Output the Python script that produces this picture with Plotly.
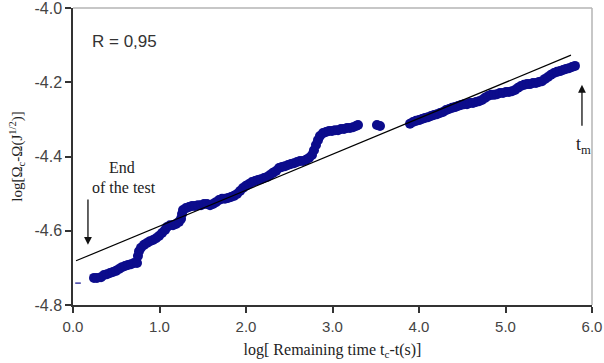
import plotly.graph_objects as go

# ---- data ----
log_t = [0.243, 0.277, 0.324, 0.358, 0.393, 0.428, 0.462, 0.497, 0.532, 0.566, 0.601, 0.636, 0.671, 0.705, 0.740,
         0.751, 0.763, 0.786, 0.821, 0.855, 0.890, 0.925, 0.960, 0.994, 1.029, 1.064, 1.087, 1.121, 1.156, 1.191,
         1.225, 1.249, 1.260, 1.272, 1.306, 1.341, 1.376, 1.410, 1.445, 1.480, 1.514, 1.549, 1.584, 1.618, 1.653,
         1.688, 1.723, 1.757, 1.792, 1.827, 1.861, 1.896, 1.931, 1.965, 2.000, 2.035, 2.069, 2.104, 2.139, 2.173,
         2.208, 2.243, 2.277, 2.312, 2.347, 2.382, 2.416, 2.451, 2.486, 2.520, 2.555, 2.590, 2.624, 2.659, 2.694,
         2.728, 2.763, 2.786, 2.809, 2.832, 2.855, 2.890, 2.925, 2.960, 2.994, 3.029, 3.064, 3.098, 3.133, 3.168,
         3.202, 3.237, 3.272, 3.295, 3.514, 3.549, 3.896, 3.931, 3.965, 4.000, 4.035, 4.069, 4.104, 4.139, 4.173,
         4.208, 4.243, 4.277, 4.312, 4.347, 4.382, 4.416, 4.451, 4.486, 4.520, 4.555, 4.590, 4.624, 4.659, 4.694,
         4.728, 4.763, 4.798, 4.832, 4.867, 4.902, 4.936, 4.971, 5.006, 5.040, 5.075, 5.110, 5.145, 5.179, 5.214,
         5.249, 5.283, 5.318, 5.353, 5.387, 5.422, 5.457, 5.491, 5.526, 5.561, 5.595, 5.630, 5.665, 5.699, 5.734,
         5.769, 5.803]
log_omega = [-4.727, -4.727, -4.725, -4.719, -4.717, -4.714, -4.711, -4.708, -4.703, -4.698, -4.695, -4.692, -4.690, -4.687, -4.687,
             -4.668, -4.655, -4.646, -4.638, -4.633, -4.628, -4.625, -4.620, -4.614, -4.606, -4.598, -4.590, -4.585, -4.585, -4.582,
             -4.576, -4.568, -4.555, -4.544, -4.539, -4.536, -4.533, -4.533, -4.531, -4.531, -4.528, -4.528, -4.531, -4.528, -4.523,
             -4.517, -4.514, -4.514, -4.512, -4.509, -4.506, -4.501, -4.493, -4.485, -4.479, -4.474, -4.469, -4.466, -4.463, -4.461,
             -4.458, -4.455, -4.450, -4.444, -4.439, -4.431, -4.428, -4.426, -4.423, -4.420, -4.418, -4.415, -4.412, -4.412, -4.409,
             -4.404, -4.396, -4.383, -4.369, -4.356, -4.345, -4.337, -4.334, -4.331, -4.331, -4.329, -4.329, -4.326, -4.326, -4.323,
             -4.323, -4.321, -4.318, -4.315, -4.315, -4.318, -4.312, -4.307, -4.304, -4.302, -4.299, -4.296, -4.294, -4.291, -4.288,
             -4.286, -4.283, -4.280, -4.275, -4.272, -4.269, -4.267, -4.264, -4.261, -4.259, -4.259, -4.256, -4.256, -4.253, -4.251,
             -4.248, -4.242, -4.237, -4.234, -4.234, -4.232, -4.229, -4.229, -4.226, -4.226, -4.224, -4.221, -4.215, -4.210, -4.207,
             -4.205, -4.205, -4.202, -4.202, -4.199, -4.197, -4.191, -4.186, -4.180, -4.175, -4.172, -4.170, -4.167, -4.164, -4.162,
             -4.159, -4.156]

stray_x = [0.058]
stray_y = [-4.741]

fit_x = [0.035, 5.757]
fit_y = [-4.681, -4.127]

x_ticks = [0, 1, 2, 3, 4, 5, 6]
x_ticktext = ["0.0", "1.0", "2.0", "3.0", "4.0", "5.0", "6.0"]
y_ticks = [-4.8, -4.6, -4.4, -4.2, -4.0]
y_ticktext = ["-4.8", "-4.6", "-4.4", "-4.2", "-4.0"]

NAVY = "#0c0c8c"
SERIF = "Liberation Serif, Times New Roman, serif"
SANS = "Liberation Sans, Arial, sans-serif"

fig = go.Figure()
fig.add_trace(go.Scatter(x=log_t, y=log_omega, mode="markers",
                         marker=dict(color=NAVY, size=10, line=dict(width=0)),
                         showlegend=False, hoverinfo="skip"))
fig.add_trace(go.Scatter(x=stray_x, y=stray_y, mode="markers",
                         marker=dict(symbol="line-ew", size=4, line=dict(color=NAVY, width=1.2)),
                         showlegend=False, hoverinfo="skip"))
fig.add_trace(go.Scatter(x=fit_x, y=fit_y, mode="lines",
                         line=dict(color="black", width=1.2),
                         showlegend=False, hoverinfo="skip"))

axis_common = dict(showline=True, linecolor="#333333", linewidth=1.5,
                   ticks="outside", ticklen=6, tickcolor="#333333", tickwidth=1.5,
                   showgrid=False, zeroline=False, ticklabeloverflow="allow",
                   automargin=False)

fig.update_xaxes(range=[0, 6], tickvals=x_ticks, ticktext=x_ticktext,
                 tickfont=dict(family=SANS, size=15, color="#444444"), ticklabelstandoff=1,
                 title=dict(text="log[ Remaining time t<sub>c</sub>-t(s)]",
                            font=dict(family=SERIF, size=16, color="#222222"), standoff=10),
                 **axis_common)
fig.update_yaxes(range=[-4.8, -4.0], tickvals=y_ticks, ticktext=y_ticktext,
                 tickfont=dict(family=SANS, size=16, color="#444444"),
                 title=dict(text="log[Ω<sub>c</sub>-Ω(J<sup>1/2</sup>)]",
                            font=dict(family=SERIF, size=15, color="#222222"), standoff=8),
                 **axis_common)

# light grey top and right frame
fig.add_shape(type="line", xref="paper", yref="paper", x0=0, x1=1, y0=1, y1=1,
              line=dict(color="#b5b5b5", width=1.5))
fig.add_shape(type="line", xref="paper", yref="paper", x0=1, x1=1, y0=0, y1=1,
              line=dict(color="#b5b5b5", width=1.5))

fig.add_annotation(x=0.6, y=-4.09, xref="x", yref="y", text="R = 0,95", showarrow=False,
                   font=dict(family=SANS, size=17, color="#333333"))
fig.add_annotation(x=0.57, y=-4.43, xref="x", yref="y", text="End", showarrow=False,
                   font=dict(family=SERIF, size=16, color="#222222"))
fig.add_annotation(x=0.59, y=-4.483, xref="x", yref="y", text="of the test", showarrow=False,
                   font=dict(family=SERIF, size=16, color="#222222"))
fig.add_annotation(x=0.173, y=-4.638, ax=0.173, ay=-4.512, xref="x", yref="y", axref="x", ayref="y",
                   text="", showarrow=True, arrowhead=2, arrowsize=1.2, arrowwidth=1.3, arrowcolor="#111111")
fig.add_annotation(x=5.884, y=-4.207, ax=5.884, ay=-4.321, xref="x", yref="y", axref="x", ayref="y",
                   text="", showarrow=True, arrowhead=2, arrowsize=1.2, arrowwidth=1.3, arrowcolor="#111111")
fig.add_annotation(x=5.9, y=-4.37, xref="x", yref="y", text="t<sub>m</sub>", showarrow=False,
                   font=dict(family=SERIF, size=18, color="#222222"))

fig.update_layout(width=604, height=363, margin=dict(l=73, r=12, t=8, b=58),
                  paper_bgcolor="white", plot_bgcolor="white")

fig.write_html("out.html", config={"displayModeBar": False},
               post_script="document.body.style.margin='0';")
